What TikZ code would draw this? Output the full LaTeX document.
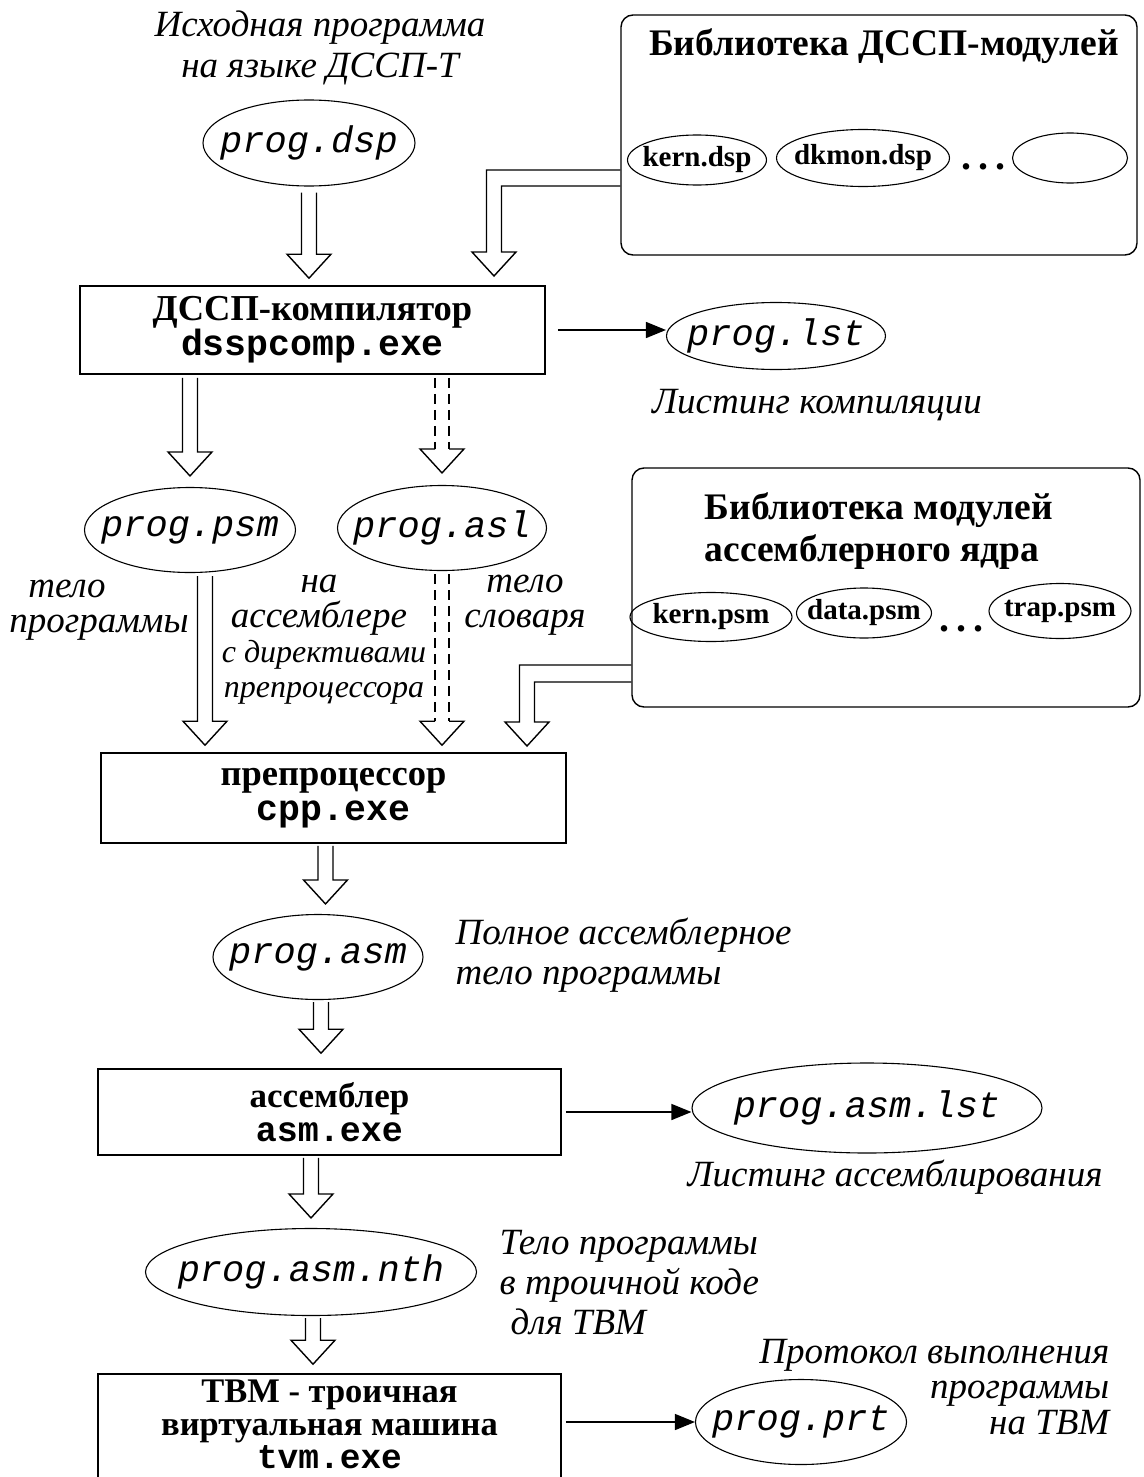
\documentclass[tikz,border=0pt]{standalone}
\usepackage{fontspec}
\setmainfont{Liberation Serif}
\newfontfamily\courfont{Liberation Mono}
\usetikzlibrary{shapes.geometric, arrows.meta, calc}

\tikzset{
  prog/.style={draw, ellipse, line width=1.1pt, inner xsep=-30pt, inner ysep=0pt,
    font=\courfont\itshape\fontsize{37}{40}\selectfont},
  tool/.style={draw, line width=1.6pt, align=center, inner sep=0pt,
    font=\bfseries\fontsize{36.5}{35}\selectfont},
  lib/.style={draw, rounded corners=12pt, line width=1.4pt, inner sep=0pt},
  libtitle/.style={align=left, inner sep=0pt, font=\bfseries\fontsize{37.5}{42}\selectfont},
  mod/.style={draw, ellipse, line width=1.1pt, inner xsep=-30pt, inner ysep=0pt,
    font=\bfseries\fontsize{29}{30}\selectfont},
  dotsnode/.style={inner sep=0pt, font=\bfseries\fontsize{40}{40}\selectfont},
  note/.style={align=center, inner sep=0pt, font=\itshape\fontsize{37}{40}\selectfont},
  tightnote/.style={align=center, inner sep=0pt, font=\itshape\fontsize{37}{35}\selectfont},
  smallnote/.style={align=center, inner sep=0pt, font=\itshape\fontsize{32}{35}\selectfont},
  listing/.style={line width=1.4pt, -{Triangle[length=20pt, width=16pt]}},
  hollow/.style={to path={let \p1=(\tikztostart), \p2=(\tikztotarget) in
    (\x1-7.5pt,\y1) -- (\x1-7.5pt,\y2+24pt) -- (\x1-22pt,\y2+24pt) -- (\x1,\y2)
    -- (\x1+22pt,\y2+24pt) -- (\x1+7.5pt,\y2+24pt) -- (\x1+7.5pt,\y1)}},
  shafts/.style={dash pattern=on 10pt off 6pt, to path={let \p1=(\tikztostart), \p2=(\tikztotarget) in
    (\x1-7pt,\y1) -- (\x1-7pt,\y2+24pt) (\x1+7pt,\y1) -- (\x1+7pt,\y2+24pt)}},
  tiponly/.style={to path={let \p1=(\tikztostart), \p2=(\tikztotarget) in
    (\x1-7pt,\y2+24pt) -- (\x1-22pt,\y2+24pt) -- (\x1,\y2)
    -- (\x1+22pt,\y2+24pt) -- (\x1+7pt,\y2+24pt)}},
}

\begin{document}
\begin{tikzpicture}[x=1pt, y=-1pt, line width=1.4pt]
\useasboundingbox (0,0) rectangle (1143,1477);
\clip (0,0) rectangle (1143,1477);
\fill[white] (0,0) rectangle (1143,1477);

% ---------- libraries ----------
\node[lib, minimum width=516pt, minimum height=240pt] (dsplib) at (879,135) {};
\node[libtitle] (dsplibtitle) at (884,46) {Библиотека ДССП-модулей};
\node[mod, minimum width=139pt, minimum height=50pt] (kerndsp) at (697,160) {kern.dsp};
\node[mod, minimum width=173pt, minimum height=57pt] (dkmon) at (863,158) {dkmon.dsp};
\node[dotsnode] (dots1) at (983,167) {.\kern7pt.\kern7pt.};
\node[mod, minimum width=115pt, minimum height=50pt] (spare) at (1070,158) {};

\node[lib, minimum width=508pt, minimum height=239pt] (asmlib) at (886,587.5) {};
\node[libtitle, anchor=west] (asmlibtitle) at (704,531) {Библиотека модулей\\ассемблерного ядра};
\node[mod, minimum width=162pt, minimum height=49pt] (kernpsm) at (711,617) {kern.psm};
\node[mod, minimum width=135pt, minimum height=50pt] (datapsm) at (864,613) {data.psm};
\node[dotsnode] (dots2) at (961,629) {.\kern7pt.\kern7pt.};
\node[mod, minimum width=142pt, minimum height=55pt] (trappsm) at (1060,611) {trap.psm};

% ---------- main chain ----------
\node[note, font=\itshape\fontsize{37}{41}\selectfont] (srccap) at (320,48) {Исходная программа\\на языке ДССП-Т};
\node[prog, minimum width=212pt, minimum height=86pt] (dsp) at (309,143) {prog.dsp};
\node[tool, minimum width=465pt, minimum height=88pt] (comp) at (312.5,330) {ДССП-компилятор\\{\courfont dsspcomp.exe}};
\node[prog, minimum width=219pt, minimum height=67pt] (lst) at (776,336) {prog.lst};
\node[note] (lstcap) at (817,405) {Листинг компиляции};

\node[prog, minimum width=211pt, minimum height=85pt] (psm) at (190,530) {prog.psm};
\node[prog, minimum width=209pt, minimum height=85pt] (asl) at (442,528) {prog.asl};
\node[note, anchor=base] (body1a) at (67,597) {тело};
\node[note, anchor=base] (body1b) at (99,632) {программы};
\node[tightnote] (asmnote) at (319,605) {на\\ассемблере};
\node[smallnote] (dirnote) at (324,672) {с директивами\\препроцессора};
\node[tightnote] (body2) at (525,605) {тело\\словаря};

\node[tool, minimum width=465pt, minimum height=90pt] (cpp) at (333.5,798) {препроцессор\\{\courfont cpp.exe}};
\node[prog, minimum width=210pt, minimum height=85pt] (asm) at (318,957) {prog.asm};
\node[note, align=left, anchor=west] (fullnote) at (455,955) {Полное ассемблерное\\тело программы};
\node[tool, minimum width=463pt, minimum height=86pt, font=\bfseries\fontsize{35}{34}\selectfont] (asmexe) at (329.5,1112) {ассемблер\\{\courfont asm.exe}};
\node[prog, minimum width=350pt, minimum height=90pt] (asmlst) at (867,1108) {prog.asm.lst};
\node[note] (asmlstcap) at (895,1177) {Листинг ассемблирования};
\node[prog, minimum width=331pt, minimum height=87pt] (nth) at (311,1272) {prog.asm.nth};
\node[note, align=left, anchor=west] (nthnote) at (499,1283) {Тело программы\\в троичной коде\\\hspace*{11pt}для ТВМ};
\node[tool, minimum width=463pt, minimum height=118pt, text depth=18pt,
  font=\bfseries\fontsize{34.5}{33}\selectfont] (tvm) at (329.5,1433) {ТВМ - троичная\\виртуальная машина\\{\courfont tvm.exe}};
\node[prog, minimum width=211pt, minimum height=85pt] (prt) at (801,1422) {prog.prt};
\node[note, align=right, anchor=east, font=\itshape\fontsize{37}{35.5}\selectfont] (prtnote) at (1110,1387) {Протокол выполнения\\программы\\на ТВМ};

% ---------- hollow arrows ----------
\draw[hollow] ([yshift=-6pt]dsp.south) to ($(dsp.south |- comp.north)+(0,-7)$);
\draw[hollow] ($(psm.north |- comp.south)+(0,3)$) to ($(psm.north)+(0,-11)$);
\draw[shafts] ($(asl.north |- comp.south)+(0,3)$) to ($(asl.north)+(0,-12)$);
\draw[tiponly] ($(asl.north |- comp.south)+(0,3)$) to ($(asl.north)+(0,-12)$);
\draw[hollow] ($(psm.south)+(15,3)$) to ($(psm.south |- cpp.north)+(15,-7)$);
\draw[shafts] ($(asl.south)+(0,3)$) to ($(asl.south |- cpp.north)+(0,-7)$);
\draw[tiponly] ($(asl.south)+(0,3)$) to ($(asl.south |- cpp.north)+(0,-7)$);
\draw[hollow] ($(cpp.south)+(-8,2)$) to ($(cpp.south |- asm.north)+(-8,-10)$);
\draw[hollow] ($(asm.south)+(3,2)$) to ($(asm.south |- asmexe.north)+(3,-15)$);
\draw[hollow] ($(nth.north |- asmexe.south)+(0,2)$) to ($(nth.north)+(0,-10)$);
\draw[hollow] ($(nth.south)+(2,2)$) to ($(nth.south |- tvm.north)+(2,-9)$);

% bent arrows from the libraries
\coordinate (libtip1) at (494,276);
\draw (dsplib.west |- 0,170) -| ($(libtip1)+(-7.5,-24)$) -- ++(-14.5pt,0) -- (libtip1)
  -- ++(22pt,24pt) -- ++(-14.5pt,0) |- (dsplib.west |- 0,186);
\coordinate (libtip2) at (527,746);
\draw (asmlib.west |- 0,665) -| ($(libtip2)+(-7.5,-24)$) -- ++(-14.5pt,0) -- (libtip2)
  -- ++(22pt,24pt) -- ++(-14.5pt,0) |- (asmlib.west |- 0,682);

% ---------- listings ----------
\draw[listing] ([xshift=12pt]comp.east) -- (comp.east -| lst.west);
\draw[listing] ([xshift=4pt]asmexe.east) -- (asmexe.east -| asmlst.west);
\draw[listing] ($(tvm.east |- prt.west)+(4,0)$) -- (prt.west);
\end{tikzpicture}
\end{document}
